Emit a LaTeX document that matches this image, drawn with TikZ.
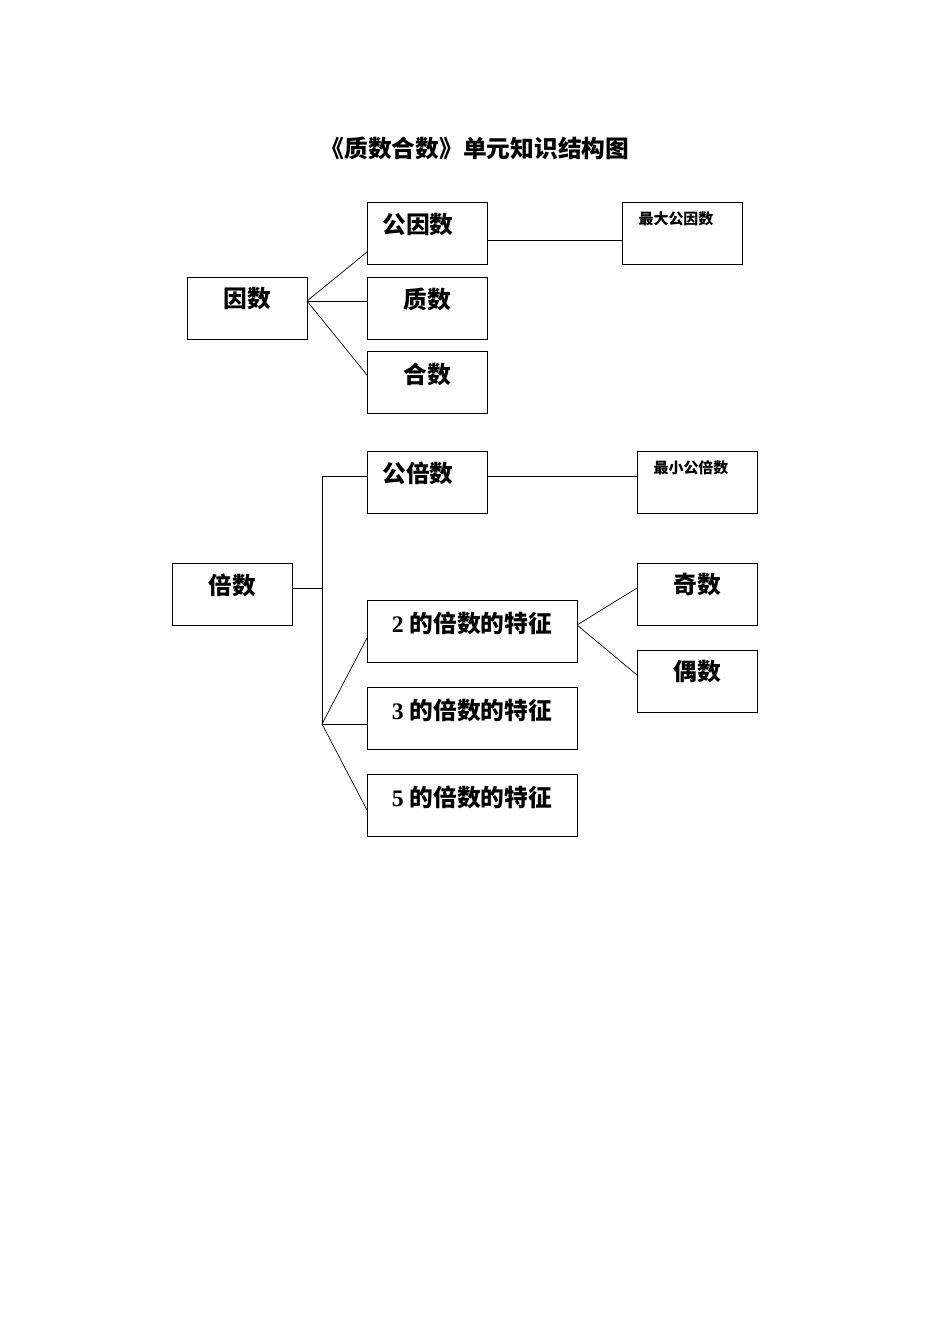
\documentclass[tikz,border=0pt]{standalone}
\usepackage{fontspec}
\setmainfont{Liberation Serif}
\newfontfamily\cjk{Noto Sans CJK SC}
\usetikzlibrary{positioning}

\tikzset{
  box/.style={draw, thin, inner sep=0pt},
  big/.style={font=\fontsize{13.5}{15}\selectfont\bfseries\cjk},
  small/.style={font=\fontsize{8.5}{10}\selectfont\bfseries\cjk},
  feat/.style={font=\fontsize{13.5}{15}\selectfont\bfseries},
  link/.style={draw, thin}
}

\begin{document}
\begin{tikzpicture}[x=0.02cm, y=-0.02cm]
  \useasboundingbox (0,0) rectangle (950,1344);

  % title
  \node[big] (title) at (475,148) {《质数合数》单元知识结构图};

  % factor part
  \node[box, minimum width=2.4cm, minimum height=1.24cm] (gys) at (427,233.5) {};
  \node[big] at (418,225) {公因数};
  \node[box, minimum width=2.4cm, minimum height=1.24cm] (zdgys) at (682,233.5) {};
  \node[small] at (676,219) {最大公因数};
  \node[box, minimum width=2.4cm, minimum height=1.24cm] (ys) at (247,308) {};
  \node[big] at (247,299) {因数};
  \node[box, minimum width=2.4cm, minimum height=1.24cm] (zs) at (427,308) {};
  \node[big] at (427,299) {质数};
  \node[box, minimum width=2.4cm, minimum height=1.24cm] (hs) at (427,382.5) {};
  \node[big] at (427,374) {合数};

  \coordinate (ysr) at (307,301);
  \draw[link] (ysr) -- (367,252);
  \draw[link] (ysr) -- (367,301);
  \draw[link] (ysr) -- (367,375);
  \draw[link] (487,240) -- (622,240);

  % multiple part
  \node[box, minimum width=2.4cm, minimum height=1.24cm] (gbs) at (427,482) {};
  \node[big] at (418,473) {公倍数};
  \node[box, minimum width=2.4cm, minimum height=1.24cm] (zxgbs) at (697,482) {};
  \node[small] at (691,468) {最小公倍数};
  \node[box, minimum width=2.4cm, minimum height=1.24cm] (bs) at (232,594) {};
  \node[big] at (232,585) {倍数};

  \node[box, minimum width=4.2cm, minimum height=1.24cm] (t2) at (472,631) {};
  \node[feat] at (472,623) {2 {\cjk 的倍数的特征}};
  \node[box, minimum width=4.2cm, minimum height=1.24cm] (t3) at (472,718) {};
  \node[feat] at (472,710) {3 {\cjk 的倍数的特征}};
  \node[box, minimum width=4.2cm, minimum height=1.24cm] (t5) at (472,805) {};
  \node[feat] at (472,797) {5 {\cjk 的倍数的特征}};

  \node[box, minimum width=2.4cm, minimum height=1.24cm] (js) at (697,594) {};
  \node[big] at (697,585) {奇数};
  \node[box, minimum width=2.4cm, minimum height=1.24cm] (os) at (697,681) {};
  \node[big] at (697,672) {偶数};

  \coordinate (top) at (322,476);
  \coordinate (mid) at (322,588);
  \coordinate (low) at (322,724);
  \draw[link] (292,588) -- (mid);
  \draw[link] (top) -- (low);
  \draw[link] (top) -- (367,476);
  \draw[link] (487,476) -- (637,476);
  \draw[link] (low) -- (367,638);
  \draw[link] (low) -- (367,724);
  \draw[link] (low) -- (367,810);
  \draw[link] (577,625) -- (637,588);
  \draw[link] (577,625) -- (637,675);
\end{tikzpicture}
\end{document}
